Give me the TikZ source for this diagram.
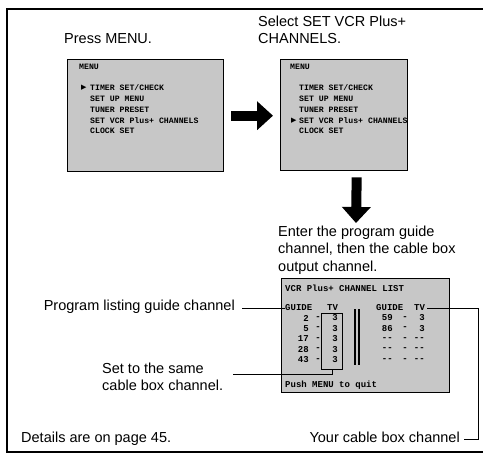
\documentclass[tikz,border=0pt]{standalone}
\usepackage{fontspec}
\setmainfont{Liberation Sans}
\newfontfamily\scrfont{Liberation Mono}
\newfontfamily\symfont{DejaVu Sans}
\usepackage{tikz}
\usetikzlibrary{arrows.meta}

\tikzset{
  note/.style={font=\fontsize{14.5}{17.5}\selectfont, inner sep=0pt, align=left},
  screen/.style={draw, line width=1.4pt, fill=black!22, inner sep=0pt, anchor=north west},
  scrtxt/.style={font=\scrfont\bfseries\fontsize{8.2}{9}\selectfont, inner sep=0pt, anchor=west},
  listtxt/.style={font=\scrfont\bfseries\fontsize{9}{10}\selectfont, inner sep=0pt},
  pointer/.style={font=\symfont\fontsize{7}{7}\selectfont, inner sep=0pt, anchor=west},
  leader/.style={line width=0.7pt},
  bigarrow/.style={line width=10pt, -{Triangle[length=16pt, width=28pt]}},
}

\begin{document}
\begin{tikzpicture}[x=1pt, y=-1pt]
\useasboundingbox (0,0) rectangle (483,456);

\draw[line width=1.1pt] (483,9) -- (7,9) -- (7,452) -- (483,452);

\node[note, anchor=base west] (press) at (64,43.5) {Press MENU.};
\node[note, anchor=north west] (select) at (258,15.5) {Select SET VCR Plus+\\CHANNELS.};

\node[screen, minimum width=156pt, minimum height=112pt] (scr1) at (67,59) {};
\node[screen, minimum width=127pt, minimum height=111pt] (scr2) at (280,59) {};

\node[scrtxt] (head1) at (79,67) {MENU};
\node[scrtxt] (head2) at (290,67) {MENU};
\foreach \t [count=\i] in {TIMER SET/CHECK, SET UP MENU, TUNER PRESET, SET VCR Plus+ CHANNELS, CLOCK SET}{
	\node[scrtxt] (a\i) at (90, 77.25+10.75*\i) {\t};
	\node[scrtxt] (b\i) at (299, 77.25+10.75*\i) {\t};
}
\node[pointer] (sel1) at (81,88) {▶};
\node[pointer] (sel2) at (291,120.25) {▶};

\draw[bigarrow] ([xshift=7pt]scr1.east) -- ([xshift=-7pt]scr2.west |- scr1.east);
\coordinate (guidetip) at (356,223);
\draw[bigarrow] ([xshift=12.5pt,yshift=-6pt]scr2.south) -- (guidetip);

\node[note, anchor=north west] (enter) at (278,225.5) {Enter the program guide\\channel, then the cable box\\output channel.};

\node[screen, minimum width=168pt, minimum height=114pt] (list) at (281,278) {};
\node[listtxt, anchor=west] (title) at (285,288) {VCR Plus+ CHANNEL LIST};
\node[listtxt, anchor=west] (guideL) at (285,308) {GUIDE};
\node[listtxt, anchor=west] (tvL) at (327,308) {TV};
\node[listtxt, anchor=west] (guideR) at (376,308) {GUIDE};
\node[listtxt, anchor=west] (tvR) at (414,308) {TV};
\foreach \g [count=\i] in {2,5,17,28,43}{
	\node[listtxt, anchor=east] (gl\i) at (309,307.6+10.4*\i) {\g};
	\node[listtxt] (dl\i) at (318,307.6+10.4*\i) {-};
	\node[listtxt] (tl\i) at (335,307.6+10.4*\i) {3};
}
\foreach \g/\t [count=\i] in {59/3, 86/3, -{}-/-{}-, -{}-/-{}-, -{}-/-{}-}{
	\node[listtxt, anchor=east] (gr\i) at (393,307.6+10.4*\i) {\g};
	\node[listtxt] (dr\i) at (405,307.6+10.4*\i) {-};
	\node[listtxt, anchor=east] (tr\i) at (425,307.6+10.4*\i) {\t};
}
\node[listtxt, anchor=west] (quit) at (285,385) {Push MENU to quit};
\node[draw, line width=0.9pt, inner sep=0pt, minimum width=21pt, minimum height=56pt, anchor=north west] (tvbox) at (321,313) {};
\draw[line width=1.5pt] (355,309) -- (355,365);
\draw[line width=1.5pt] (359,309) -- (359,365);

\node[note, anchor=mid east] (prog) at (235,308) {Program listing guide channel};
\draw[leader] ([xshift=7pt]prog.mid east) -- (guideL.west);

\node[note, anchor=north west] (same) at (102,362.5) {Set to the same\\cable box channel.};
\coordinate (samelead) at (233,374);
\draw[leader] (samelead) -| (tvbox.south);

\node[note, anchor=base east] (yours) at (460,442) {Your cable box channel};
\draw[leader] ([xshift=2pt]tvR.east) -| ([xshift=18pt]yours.mid east) -- ([xshift=4pt]yours.mid east);
\node[note, anchor=base west] (details) at (21,442) {Details are on page 45.};

\end{tikzpicture}
\end{document}
